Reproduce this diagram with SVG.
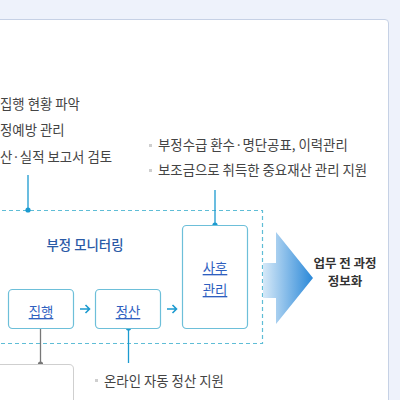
<svg xmlns="http://www.w3.org/2000/svg" width="400" height="400" viewBox="0 0 400 400">
<style>
text{font-family:"Noto Sans CJK KR","Noto Sans",sans-serif;}
.t{font-size:13.4px;fill:#444;}
.box{fill:#fff;stroke:#6dbfd9;stroke-width:1.2;}
.lbl{font-size:13.4px;fill:#2f5fbf;text-decoration:underline;text-anchor:middle;}
.bul{fill:#cfcfcf;}
.tl{stroke:#1b9ad0;stroke-width:1.3;fill:none;}
.gl{stroke:#777;stroke-width:1.3;fill:none;}
.arr{stroke:#1b9ad0;stroke-width:1.6;fill:none;}
</style>
<defs>
<linearGradient id="g" x1="0" y1="0" x2="1" y2="0">
<stop offset="0" stop-color="#d6e9f8"/>
<stop offset="1" stop-color="#2a88d8"/>
</linearGradient>
</defs>
<rect x="0" y="0" width="400" height="400" fill="#eef2fb"/>
<path d="M-5 19.5 H385 Q388.5 19.5 388.5 23 V405 H-5 Z" fill="#fff" stroke="#c6d1e5" stroke-width="1"/>
<g id="left-texts">
<text class="t" x="0" y="109">집행 현황 파악</text>
<text class="t" x="0" y="135">정예방 관리</text>
<text class="t" x="0" y="162">산·실적 보고서 검토</text>
</g>
<g id="right-texts">
<rect class="bul" x="149" y="144" width="3" height="3"/>
<text class="t" x="158" y="150">부정수급 환수·명단공표, 이력관리</text>
<rect class="bul" x="149" y="169" width="3" height="3"/>
<text class="t" x="158" y="175">보조금으로 취득한 중요재산 관리 지원</text>
</g>
<g id="monitoring">
<rect x="-5" y="210.5" width="267.5" height="133" fill="none" stroke="#5fbdd6" stroke-width="1.2" stroke-dasharray="4,3"/>
<text x="85" y="250" font-size="13.4" fill="#2a5aa6" text-anchor="middle" font-weight="500">부정 모니터링</text>
</g>
<g id="connectors">
<line class="tl" x1="28" y1="175" x2="28" y2="210"/>
<circle cx="28" cy="210" r="2.6" fill="#1b9ad0"/>
<line class="tl" x1="215" y1="190" x2="215" y2="225"/>
<circle cx="215" cy="225" r="2.6" fill="#1b9ad0"/>
<line class="gl" x1="40.5" y1="328" x2="40.5" y2="364"/>
<circle cx="40.5" cy="364" r="2.6" fill="#777"/>
<line class="tl" x1="128.5" y1="328" x2="128.5" y2="363"/>
<circle cx="128.5" cy="328" r="2.6" fill="#1b9ad0"/>
<path class="arr" d="M80 309 H89 M85.5 305 L89.5 309 L85.5 313"/>
<path class="arr" d="M167 309 H176 M172.5 305 L176.5 309 L172.5 313"/>
</g>
<g id="n-jiphaeng">
<rect class="box" x="8.5" y="289.5" width="65" height="39" rx="4"/>
<text class="lbl" x="41" y="317">집행</text>
</g>
<g id="n-jeongsan">
<rect class="box" x="95.5" y="289.5" width="65" height="39" rx="4"/>
<text class="lbl" x="128" y="317">정산</text>
</g>
<g id="n-sahu">
<rect class="box" x="182.5" y="225.5" width="65" height="103" rx="4"/>
<text class="lbl" x="215" y="273">사후</text>
<text class="lbl" x="215" y="295">관리</text>
</g>
<g id="bottom-box">
<path d="M-5 364.5 H69 Q73.5 364.5 73.5 369 V405" fill="#fff" stroke="#cfcfcf" stroke-width="1"/>
<rect class="bul" x="95" y="379" width="3" height="3"/>
<text class="t" x="104" y="386">온라인 자동 정산 지원</text>
</g>
<g id="big-arrow">
<path d="M263 263 H276 V232 L313 278 L276 324 V298 H263 Z" fill="url(#g)"/>
<text x="345" y="268" font-size="12.5" font-weight="bold" fill="#333" text-anchor="middle">업무 전 과정</text>
<text x="345" y="286" font-size="12.5" font-weight="bold" fill="#333" text-anchor="middle">정보화</text>
</g>
</svg>
